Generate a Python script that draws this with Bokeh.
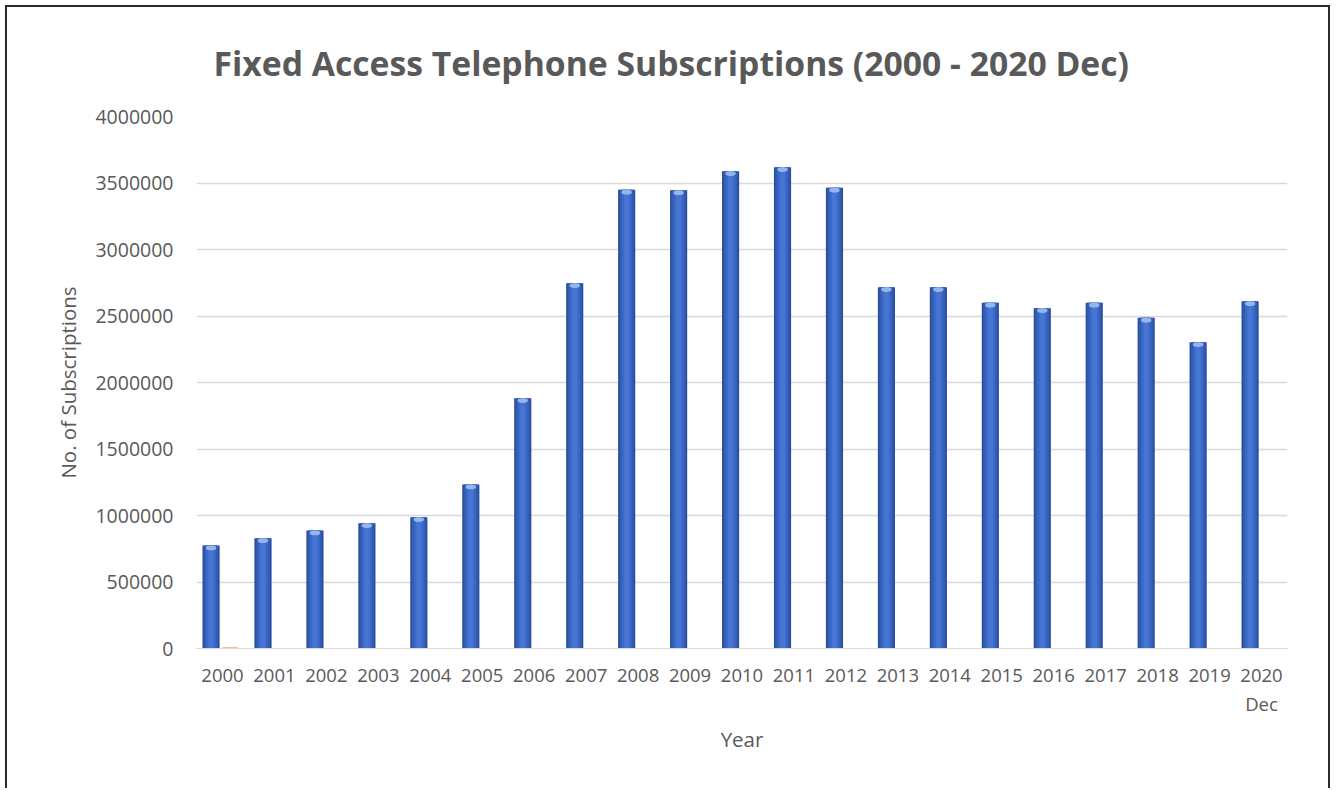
from bokeh.plotting import figure
from bokeh.models import (SingleIntervalTicker, NumeralTickFormatter, Title, ColumnDataSource,
                          CategoricalAxis, CustomJSTickFormatter)
from bokeh.transform import dodge
from bokeh.embed import file_html
from bokeh.resources import INLINE

years = ["2000", "2001", "2002", "2003", "2004", "2005", "2006", "2007", "2008", "2009",
         "2010", "2011", "2012", "2013", "2014", "2015", "2016", "2017", "2018", "2019", "2020"]
subscriptions = [774000, 829000, 887000, 942000, 987000, 1233000, 1882000, 2747000, 3449000, 3445000,
                 3589000, 3619000, 3464000, 2717000, 2717000, 2599000, 2559000, 2599000, 2486000, 2303000, 2611000]
other_series = [8000, 0, 0, 0, 0, 0, 0, 0, 0, 0, 0, 0, 0, 0, 0, 0, 0, 0, 0, 0, 0]
second_line_year = "2020"
second_line_text = "Dec"
title_text = "Fixed Access Telephone Subscriptions  (2000 - 2020 Dec)"

cap = [v - 18000 for v in subscriptions]
src = ColumnDataSource(dict(year=years, subs=subscriptions, other=other_series, cap=cap))

W, H = 1325, 783
p = figure(x_range=years, y_range=(0, 4000000), width=W, height=H,
           output_backend="svg", toolbar_location=None,
           min_border_left=189, min_border_right=45, min_border_top=109, min_border_bottom=142)
p.title = None
t = Title(text=title_text, align="left", offset=17, standoff=61,
          text_font="Open Sans", text_font_size="33.7px", text_font_style="bold", text_color="#595959")
p.add_layout(t, "above")

p.styles = {"margin-left": "5px", "margin-top": "5px",
            "border-top": "2px solid #2b2b2b", "border-left": "2px solid #2b2b2b",
            "border-right": "2px solid #2b2b2b"}

p.outline_line_color = None
p.background_fill_color = "white"
p.border_fill_color = "white"

off = -0.22
layers = [(0.33, "#2b4d9e"), (0.27, "#335db5"), (0.19, "#3c69c6"), (0.10, "#4675d3")]
for wdt, col in layers:
    p.vbar(x=dodge("year", off, range=p.x_range), top="subs", bottom=0, width=wdt,
           source=src, fill_color=col, line_color=None)
p.ellipse(x=dodge("year", off, range=p.x_range), y="cap", width=0.2, height=36000,
          source=src, fill_color="#9dbcf0", line_color=None, fill_alpha=0.9)
p.vbar(x=dodge("year", 0.15, range=p.x_range), top="other", bottom=0, width=0.3,
       source=src, fill_color="#ED7D31", line_color=None)

# axes
p.yaxis.ticker = SingleIntervalTicker(interval=500000)
p.yaxis.formatter = NumeralTickFormatter(format="0")
p.yaxis.axis_line_color = None
p.yaxis.major_tick_line_color = None
p.yaxis.minor_tick_line_color = None
p.yaxis.major_label_standoff = 17
p.yaxis.axis_label = "No. of Subscriptions"
p.yaxis.axis_label_standoff = 10

p.xaxis.axis_line_color = "#d9d9d9"
p.xaxis.major_tick_line_color = None
p.xaxis.minor_tick_line_color = None
p.xaxis.major_label_standoff = 14

fmt = CustomJSTickFormatter(args=dict(yr=second_line_year, txt=second_line_text),
                            code="return String(tick) == yr ? txt : ' ';")
x2 = CategoricalAxis(axis_line_color=None, major_tick_line_color=None, minor_tick_line_color=None,
                     major_label_standoff=0, formatter=fmt)
x2.axis_label = "Year"
x2.axis_label_standoff = 6
p.add_layout(x2, "below")

for ax in (p.xaxis[0], x2, p.yaxis[0]):
    ax.major_label_text_font = "Open Sans"
    ax.major_label_text_color = "#595959"
    ax.axis_label_text_font = "Open Sans"
    ax.axis_label_text_font_size = "20.5px"
    ax.axis_label_text_font_style = "normal"
    ax.axis_label_text_color = "#595959"
p.xaxis.major_label_text_font_size = "18.5px"
p.yaxis.major_label_text_font_size = "19.5px"

p.xgrid.grid_line_color = None
p.ygrid.grid_line_color = "#d9d9d9"
p.ygrid.grid_line_width = 1.5

open("out.html", "w").write(file_html(p, INLINE))
